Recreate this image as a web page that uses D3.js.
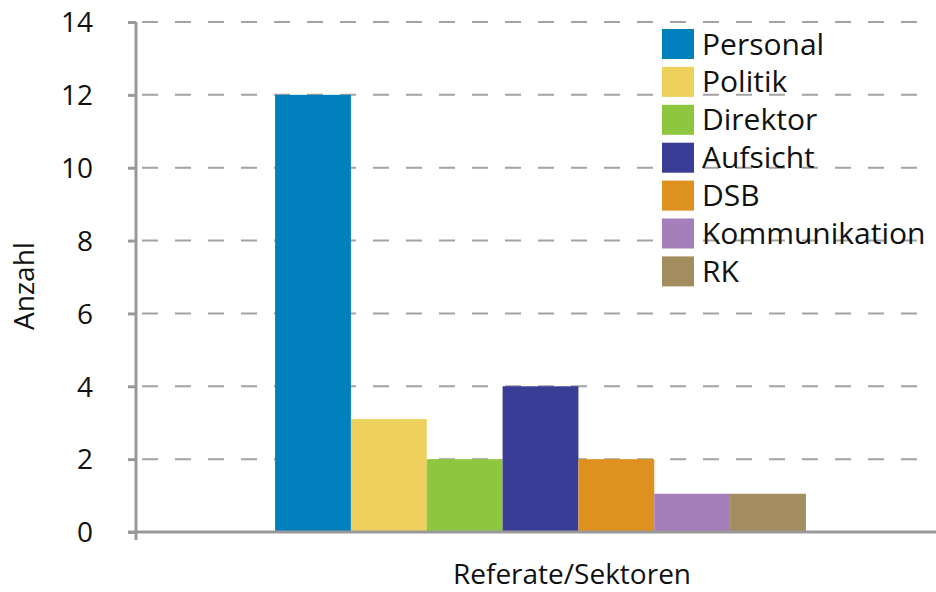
<!DOCTYPE html>
<html>
<head>
<meta charset="utf-8">
<script src="https://cdn.jsdelivr.net/npm/d3@7"></script>
<style>
  body { margin: 0; background: #fff; }
  text { font-family: "Open Sans", "Noto Sans", sans-serif; fill: #111; }
</style>
</head>
<body>
<script>
const series = ["Personal", "Politik", "Direktor", "Aufsicht", "DSB", "Kommunikation", "RK"]
const values = [12, 3.1, 2, 4, 2, 1.05, 1.05]
const colors = ["#0081bd", "#edd15c", "#8dc63f", "#3a3d96", "#df911f", "#a57fb9", "#a38d5e"]
const yTicks = [0, 2, 4, 6, 8, 10, 12, 14]

const w = 936, h = 592
const plotLeft = 136, plotRight = 945, plotTop = 22, plotBottom = 532

const svg = d3.select("body").append("svg")
  .attr("width", w).attr("height", h)

const yScale = d3.scaleLinear().domain([0, 14]).range([plotBottom, plotTop])
// one category group, series bars side by side
const groupScale = d3.scaleBand().domain(["g"]).range([plotLeft, plotRight]).paddingInner(0).paddingOuter(0.262)
const xScale = d3.scaleBand().domain(series).range([groupScale("g"), groupScale("g") + groupScale.bandwidth()])

// dashed grid
svg.append("g").selectAll("line")
  .data(yTicks.filter(d => d > 0))
  .enter().append("line")
  .attr("x1", plotLeft + 6).attr("x2", 926)
  .attr("y1", d => yScale(d)).attr("y2", d => yScale(d))
  .attr("stroke", "#a3a3a3").attr("stroke-width", 2)
  .attr("stroke-dasharray", "16,17")

// bars
svg.append("g").selectAll("rect")
  .data(series)
  .enter().append("rect")
  .attr("x", d => xScale(d))
  .attr("width", xScale.bandwidth())
  .attr("y", (d, i) => yScale(values[i]))
  .attr("height", (d, i) => yScale(0) - yScale(values[i]))
  .attr("fill", (d, i) => colors[i])

// y axis
const yAxis = d3.axisLeft(yScale).tickValues(yTicks).tickSize(8).tickPadding(35)
const yg = svg.append("g")
  .attr("transform", "translate(" + plotLeft + ",0)")
  .call(yAxis)
yg.select(".domain").attr("stroke", "#999").attr("stroke-width", 3)
  .attr("d", "M0," + plotTop + "V" + (plotBottom + 8))
yg.selectAll(".tick line").attr("stroke", "#999").attr("stroke-width", 3)
yg.selectAll(".tick text").style("font-size", "28px").attr("fill", "#111")
  .attr("dy", "0.35em")

// x axis line
svg.append("line")
  .attr("x1", plotLeft - 8).attr("x2", 936)
  .attr("y1", plotBottom).attr("y2", plotBottom)
  .attr("stroke", "#999").attr("stroke-width", 3)

// axis titles
svg.append("text")
  .attr("transform", "translate(34," + 286 + ") rotate(-90)")
  .attr("text-anchor", "middle")
  .style("font-size", "28px")
  .text("Anzahl")

svg.append("text")
  .attr("x", 572).attr("y", 584)
  .attr("text-anchor", "middle")
  .style("font-size", "28px")
  .text("Referate/Sektoren")

// legend
const legend = svg.append("g")
legend.selectAll("rect")
  .data(series)
  .enter().append("rect")
  .attr("x", 662)
  .attr("y", (d, i) => 29 + i * 37.9)
  .attr("width", 32).attr("height", 30)
  .attr("fill", (d, i) => colors[i])
legend.selectAll("text")
  .data(series)
  .enter().append("text")
  .attr("x", 702)
  .attr("y", (d, i) => 44 + i * 37.9)
  .attr("dy", "0.35em")
  .style("font-size", "30px")
  .text(d => d)
</script>
</body>
</html>
